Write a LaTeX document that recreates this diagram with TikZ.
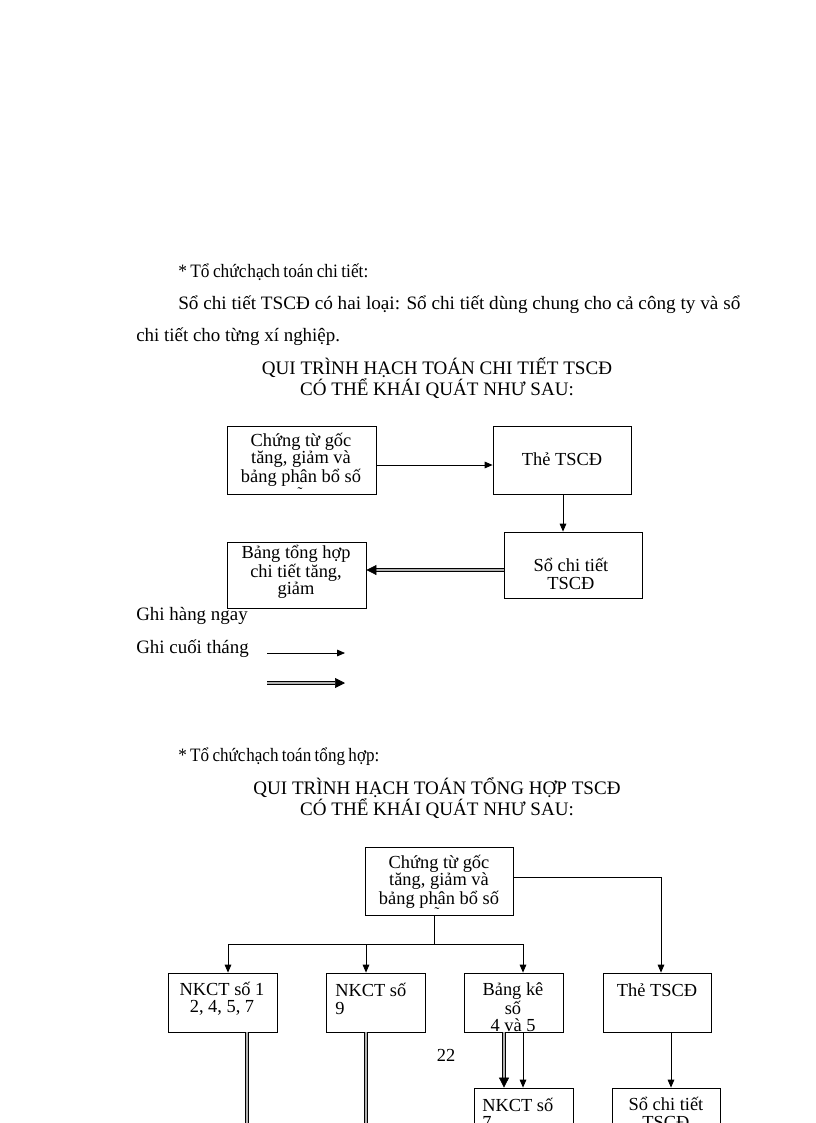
\documentclass[tikz,border=0pt]{standalone}
\usepackage{fontspec}
\setmainfont{Liberation Serif}
\usetikzlibrary{arrows.meta,fit}
\begin{document}
\begin{tikzpicture}[x=0.75pt,y=-0.75pt,
  every node/.style={font=\fontsize{13.8}{12.9}\selectfont},
  body/.style={anchor=base west, inner sep=0pt, font=\fontsize{14.2}{16}\selectfont},
  box/.style={draw, line width=0.6pt, inner sep=0pt},
  btxt/.style={align=center, inner sep=0pt},
  ttl/.style={align=center, inner sep=0pt, font=\fontsize{14.3}{15}\selectfont},
  arr/.style={line width=0.6pt, -{Triangle[length=6pt,width=5pt]}},
  dbl/.style={draw=black, line width=0.55pt, double=gray!60, double distance=1.4pt},
  darr/.style={dbl, -{Triangle[length=7.5pt,width=7.5pt]}},
]
\useasboundingbox (0,0) rectangle (816,1123);
\clip (0,0) rectangle (816,1123);

% ---------- section 1 text ----------
\node[body] (h1) at (178,277) {\resizebox{142.5pt}{\height}{\spaceskip=0.2em * Tổ chức\kern0.05em hạch toán chi tiết:}};
\node[body] (p1) at (178,309) {\resizebox{421.5pt}{\height}{Sổ chi tiết TSCĐ có hai loại: Sổ chi tiết dùng chung cho cả công ty và sổ}};
\node[body] (p2) at (136,341) {chi tiết cho từng xí nghiệp.};
\node[ttl] (t1) at (437,378) {QUI TRÌNH HẠCH TOÁN CHI TIẾT TSCĐ\\CÓ THỂ KHÁI QUÁT NHƯ SAU:};

% ---------- diagram 1 ----------
\node[box, fit={(227,426)(376,494)}] (a1) {};
\node[btxt] (a1t) at (301,460) {Chứng từ gốc\\tăng, giảm và\\bảng phân bổ số};
\node[inner sep=0pt, font=\fontsize{11}{11}\selectfont] (a1x) at (300,493) {˜};
\node[box, fit={(493,426)(631,494)}] (b1) {};
\node[btxt] (b1t) at (562,459) {Thẻ TSCĐ};
\node[box, fit={(504,532)(642,598)}] (c1) {};
\node[btxt] (c1t) at (571,574) {Sổ chi tiết\\TSCĐ};
\node[box, fit={(227,542)(366,608)}] (d1) {};
\node[btxt] (d1t) at (296,572) {Bảng tổng hợp\\chi tiết tăng,\\giảm};

\coordinate (y0) at (0,465);
\coordinate (m1) at (563,0);
\coordinate (y1) at (0,570);
\draw[arr] (a1.east |- y0) -- (b1.west |- y0);
\draw[arr] (b1.south -| m1) -- (c1.north -| m1);
\draw[darr] (c1.west |- y1) -- (d1.east |- y1);

% legend
\node[body] (g1) at (136,620) {Ghi hàng ngay};
\node[body] (g2) at (136,653) {Ghi cuối tháng};
\coordinate (l1s) at (267,653);
\coordinate (l1e) at (345,653);
\coordinate (l2s) at (267,683);
\coordinate (l2e) at (345,683);
\draw[arr] (l1s) -- (l1e);
\draw[darr] (l2s) -- (l2e);

% ---------- section 2 text ----------
\node[body] (h2) at (178,761) {\resizebox{150.75pt}{\height}{\spaceskip=0.2em * Tổ chức\kern0.05em hạch toán tổng hợp:}};
\node[ttl] (t2) at (437,798) {QUI TRÌNH HẠCH TOÁN TỔNG HỢP TSCĐ\\CÓ THỂ KHÁI QUÁT NHƯ SAU:};

% ---------- diagram 2 ----------
\node[box, fit={(365,847)(513,915)}] (top) {};
\node[btxt] (topt) at (439,882) {Chứng từ gốc\\tăng, giảm và\\bảng phân bổ số};
\node[inner sep=0pt, font=\fontsize{11}{11}\selectfont] (topx) at (437,913) {˜};

\node[box, fit={(168,973)(277,1032)}] (n1) {};
\node[btxt] (n1t) at (222,999) {NKCT số 1\\2, 4, 5, 7};
\node[box, fit={(326,973)(425,1032)}] (n9) {};
\node[btxt, align=left, anchor=west] (n9t) at (335,999) {NKCT số\\9};
\node[box, fit={(464,973)(563,1032)}] (bk) {};
\begin{scope}
\clip (464,973) rectangle (563,1032);
\node[btxt] (bkt) at (513,1007) {Bảng kê\\số\\4 và 5};
\end{scope}
\node[box, fit={(603,973)(711,1032)}] (tt) {};
\node[btxt] (ttt) at (657,990) {Thẻ TSCĐ};

\node[box, fit={(474,1088)(573,1140)}] (n7) {};
\node[btxt, align=left, anchor=west] (n7t) at (482,1113) {NKCT số\\7};
\node[box, fit={(612,1088)(720,1140)}] (sct) {};
\node[btxt] (sctt) at (666,1113) {Sổ chi tiết\\TSCĐ};

\node[inner sep=0pt] (pg) at (446,1055) {22};

% connectors
\coordinate (j) at (434,944);
\coordinate (jl) at (228,944);
\coordinate (jm) at (366,944);
\coordinate (jr) at (523,944);
\coordinate (r) at (661,877);
\draw[line width=0.6pt] (top.south -| j) -- (j);
\draw[line width=0.6pt] (jl) -- (jr);
\draw[arr] (jl) -- (n1.north -| jl);
\draw[arr] (jm) -- (n9.north -| jm);
\draw[arr] (jr) -- (bk.north -| jr);
\draw[arr] (top.east |- r) -| (tt.north -| r);

\coordinate (v1) at (247,1130);
\coordinate (v2) at (366,1130);
\coordinate (v3) at (504,0);
\coordinate (v4) at (523,0);
\coordinate (v5) at (671,0);
\draw[dbl] (n1.south -| v1) -- (v1);
\draw[dbl] (n9.south -| v2) -- (v2);
\draw[darr] (bk.south -| v3) -- (n7.north -| v3);
\draw[arr] (bk.south -| v4) -- (n7.north -| v4);
\draw[arr] (tt.south -| v5) -- (sct.north -| v5);
\end{tikzpicture}
\end{document}
